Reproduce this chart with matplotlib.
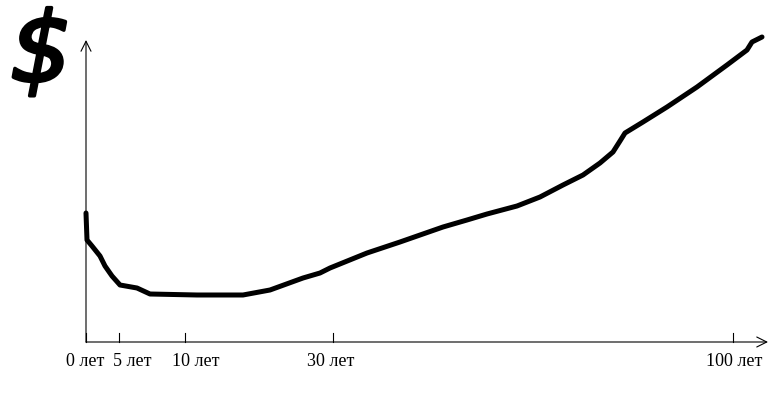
import matplotlib
matplotlib.use("Agg")
import matplotlib.pyplot as plt
import matplotlib.patheffects as pe

# Рисунок "от руки": стоимость во времени
# позиции по оси X (условные единицы от начала оси) и уровень затрат
x_pos = [0, 1, 6, 14, 19, 26, 34, 51, 64, 111, 157, 184, 217, 234, 244,
         281, 314, 357, 381, 401, 431, 454, 477, 497, 514, 527, 534, 539,
         557, 581, 611, 641, 661, 666, 676]
cost = [129, 102, 96, 86, 76, 66, 57, 54, 48, 47, 47, 52, 64, 69, 74,
        89, 100, 115, 122, 128, 136, 145, 157, 167, 179, 190, 201, 209,
        220, 235, 255, 277, 292, 300, 305]

tick_pos = [0, 33, 99, 247, 647]
tick_labels = ["0 лет", "5 лет", "10 лет", "30 лет", "100 лет"]
# подписи нарисованы не строго под засечками
label_shift = [-1, 13, 11, -2, 1]

fig = plt.figure(figsize=(7.83, 3.97), dpi=100)
ax = fig.add_axes([0, 0, 1, 1])
ax.set_xlim(-86, 697)
ax.set_ylim(-55, 342)
ax.axis("off")

# оси со стрелками
ax.annotate("", xy=(0, 302), xytext=(0, 0),
            arrowprops=dict(arrowstyle="->", color="black", lw=0.8,
                            mutation_scale=18, shrinkA=0, shrinkB=0))
ax.annotate("", xy=(682, 0), xytext=(0, 0),
            arrowprops=dict(arrowstyle="->", color="black", lw=0.8,
                            mutation_scale=18, shrinkA=0, shrinkB=0))

# засечки и подписи
for p, lab, s in zip(tick_pos, tick_labels, label_shift):
    ax.plot([p, p], [0, 9], color="black", lw=0.8)
    ax.text(p + s, -19, lab, ha="center", va="center", fontsize=13,
            family="Liberation Serif")

# кривая
ax.plot(x_pos, cost, color="black", lw=3.6, solid_capstyle="round",
        solid_joinstyle="round")

# знак доллара
ax.text(-45, 287, "\\$", ha="center", va="center", fontsize=70,
        style="italic", family="DejaVu Sans", color="black",
        path_effects=[pe.withStroke(linewidth=2.5, foreground="black")])

fig.savefig("out.png", dpi=100)
